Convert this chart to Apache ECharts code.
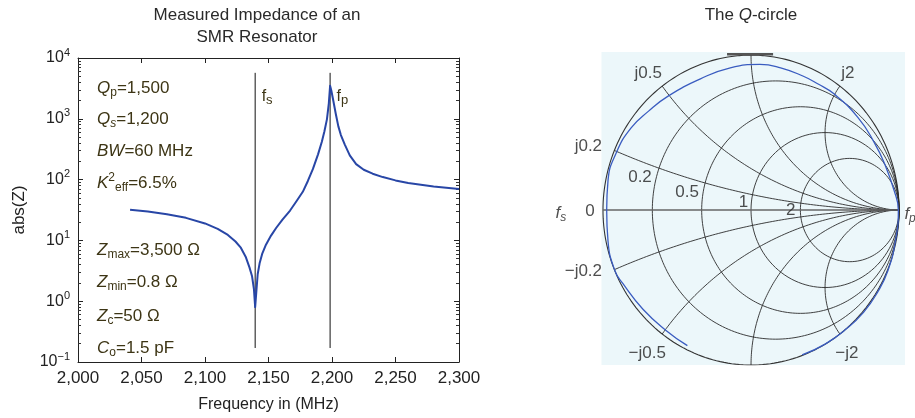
<!DOCTYPE html>
<html>
<head>
<meta charset="utf-8">
<script src="https://cdn.jsdelivr.net/npm/echarts@6/dist/echarts.min.js"></script>
<style>
html, body {margin: 0; padding: 0; background: #fff;}
#chart {width: 915px; height: 418px;}
</style>
</head>
<body>
<div id="chart"></div>
<script>
'use strict';

// left panel: |Z|
var freqMHz = [2041, 2055, 2070, 2085, 2100, 2110, 2118, 2124, 2128, 2132, 2135, 2137, 2138.5, 2139.5,
    2140.5, 2141.5, 2143, 2145, 2148, 2152, 2156, 2161, 2167, 2172, 2177, 2181, 2185, 2189, 2192, 2194,
    2196, 2197.5, 2198.5, 2199.5, 2201, 2203, 2205, 2207, 2210, 2214, 2219, 2225, 2232, 2240, 2250,
    2260, 2280, 2300];
var absZ = [32, 30, 27, 23.5, 19, 15.5, 12.3, 9.6, 7.7, 5.4, 3.6, 2.6, 1.6, 0.8,
    1.5, 2.8, 4.2, 6, 8.5, 12, 16, 22, 31, 44, 63, 95, 150, 260, 420, 620,
    980, 1800, 3500, 2900, 2000, 1200, 750, 540, 380, 250, 180, 145, 125, 110, 97,
    88, 77, 70];
var resonanceMHz = [2139.5, 2198.5];
var resonanceNames = ['s', 'p'];
var markerSpan = [0.17, 5700];
var decadeExponents = [-1, 0, 1, 2, 3, 4];
var annotations = [
    '{i|Q}{sub|p}=1,500',
    '{i|Q}{subi|s}=1,200',
    '{i|BW}=60 MHz',
    '{i|K}{sup|2}{sub|eff}=6.5%',
    '{i|Z}{sub|max}=3,500 Ω',
    '{i|Z}{sub|min}=0.8 Ω',
    '{i|Z}{sub|c}=50 Ω',
    '{i|C}{sub|o}=1.5 pF'
];

// right panel: smith grid values and the measured Q-circle (reflection coefficient)
var resistanceCircles = [0, 0.2, 0.5, 1, 2];
var reactanceArcs = [0.2, 0.5, 1, 2];
var resistanceLabels = [0.2, 0.5, 1, 2];
var reactanceLabels = [0.2, 0.5, 2, -0.2, -0.5, -2];
var qCircle = [
    [-0.43, -0.875], [-0.57, -0.78], [-0.73, -0.64], [-0.865, -0.475], [-0.92, -0.39], [-0.966, -0.2],
    [-0.975, 0], [-0.966, 0.19], [-0.91, 0.37], [-0.81, 0.53], [-0.69, 0.64], [-0.56, 0.735],
    [-0.345, 0.845], [-0.14, 0.918], [0.06, 0.94], [0.2, 0.918], [0.35, 0.865], [0.45, 0.815],
    [0.56, 0.75], [0.72, 0.6], [0.83, 0.44], [0.91, 0.28], [0.965, 0.13], [0.995, 0],
    [0.975, -0.2], [0.925, -0.39], [0.855, -0.53], [0.76, -0.66], [0.64, -0.77], [0.5, -0.865],
    [0.345, -0.935]
];
var topEdgeMark = [[-0.162, 1.006], [0.149, 1.006]];

var FONT = '"Liberation Sans", Arial, Helvetica, sans-serif';
var TEXT = '#222';
var OLIVE = '#3d3515';

function gammaOf(r, x) {
    var den = (r + 1) * (r + 1) + x * x;
    return [(r * r + x * x - 1) / den, 2 * x / den];
}

function thousands(v) {
    return String(v).replace(/\B(?=(\d{3})+(?!\d))/g, ',');
}

var minorValues = [];
decadeExponents.slice(0, -1).forEach(function (e) {
    for (var m = 2; m <= 9; m++) {
        minorValues.push(m * Math.pow(10, e));
    }
});

function logLabel(v) {
    var e = Math.round(Math.log(v) / Math.LN10);
    return '{b|10}{sup|' + (e < 0 ? '−' + (-e) : e) + '}';
}

var logRich = {
    b: {fontSize: 16, fontFamily: FONT, color: TEXT, lineHeight: 22},
    sup: {fontSize: 11, fontFamily: FONT, color: TEXT, lineHeight: 11, verticalAlign: 'top'}
};

var annRich = {
    i: {fontSize: 17, fontFamily: FONT, fontStyle: 'italic', lineHeight: 22},
    sub: {fontSize: 12, fontFamily: FONT, lineHeight: 12, verticalAlign: 'bottom'},
    subi: {fontSize: 12, fontFamily: FONT, fontStyle: 'italic', lineHeight: 12, verticalAlign: 'bottom'},
    sup: {fontSize: 12, fontFamily: FONT, lineHeight: 12, verticalAlign: 'top'}
};

var chart = echarts.init(document.getElementById('chart'));

var series = [];

series.push({
    type: 'line', xAxisIndex: 0, yAxisIndex: 0,
    data: freqMHz.map(function (f, i) { return [f, absZ[i]]; }),
    symbol: 'none', silent: true,
    lineStyle: {color: '#2846a6', width: 2, join: 'round'}, z: 3
});

resonanceMHz.forEach(function (f, i) {
    series.push({
        type: 'line', xAxisIndex: 0, yAxisIndex: 0, symbol: 'circle', symbolSize: 1, showSymbol: true,
        silent: true, itemStyle: {color: 'transparent'},
        lineStyle: {color: '#111', width: 1}, z: 2,
        data: [
            [f, markerSpan[0]],
            {
                value: [f, markerSpan[1]],
                label: {
                    show: true, position: 'right', distance: 0, offset: [6, 24],
                    formatter: '{b|f}{sub|' + resonanceNames[i] + '}',
                    rich: {
                        b: {fontSize: 16, fontFamily: FONT, color: OLIVE, lineHeight: 20},
                        sub: {fontSize: 13, fontFamily: FONT, color: OLIVE, lineHeight: 13, verticalAlign: 'bottom'}
                    }
                }
            }
        ]
    });
});

var smithLine = {color: '#2b2b2b', width: 0.9};

function addSmithCurve(points, style, z, smooth) {
    series.push({
        type: 'line', xAxisIndex: 2, yAxisIndex: 4, data: points, symbol: 'none',
        silent: true, lineStyle: style, z: z || 2, smooth: smooth || false
    });
}

resistanceCircles.forEach(function (r) {
    var c = r / (r + 1), rho = 1 / (r + 1), pts = [];
    for (var k = 0; k <= 240; k++) {
        var a = 2 * Math.PI * k / 240;
        pts.push([c + rho * Math.cos(a), rho * Math.sin(a)]);
    }
    addSmithCurve(pts, r === 0 ? {color: '#333', width: 1.1} : smithLine);
});

reactanceArcs.forEach(function (x) {
    [x, -x].forEach(function (xx) {
        var pts = [];
        for (var k = 0; k <= 300; k++) {
            var t = k / 300;
            pts.push(t < 1 ? gammaOf(t / (1 - t), xx) : [1, 0]);
        }
        addSmithCurve(pts, smithLine);
    });
});

// real axis (reactance 0)
addSmithCurve([gammaOf(0, 0), [1, 0]], {color: '#666', width: 1.6});
addSmithCurve(topEdgeMark, {color: '#555', width: 2.5});
addSmithCurve(qCircle, {color: '#3a5cc0', width: 1.3}, 4, 0.5);

var labelBase = {show: true, position: 'inside', fontSize: 17, fontFamily: FONT, color: TEXT};
var reactOffsets = {'0.2': [-26, -4], '0.5': [-14, -13], '2': [8, -13], '-0.2': [-31, 2], '-0.5': [-15, 19], '-2': [7, 19]};
var resOffsets = {'0.2': [-19, 9], '0.5': [-18, 9], '1': [-9, 8], '2': [-10, 7]};

var smithLabels = [];
reactanceLabels.forEach(function (x) {
    smithLabels.push({
        value: gammaOf(0, x),
        label: Object.assign({}, labelBase, {
            offset: reactOffsets[String(x)],
            formatter: (x < 0 ? '−j' + (-x) : 'j' + x)
        })
    });
});
resistanceLabels.forEach(function (r) {
    smithLabels.push({
        value: gammaOf(r, 0.2),
        label: Object.assign({}, labelBase, {offset: resOffsets[String(r)], formatter: String(r)})
    });
});
var fRich = {
    i: {fontSize: 17, fontFamily: FONT, fontStyle: 'italic', color: TEXT, lineHeight: 22},
    sub: {fontSize: 12, fontFamily: FONT, fontStyle: 'italic', color: TEXT, lineHeight: 12, verticalAlign: 'bottom'}
};
smithLabels.push({value: gammaOf(0, 0), label: Object.assign({}, labelBase, {offset: [-13, 1], formatter: '0'})});
smithLabels.push({value: gammaOf(0, 0), label: Object.assign({}, labelBase, {offset: [-42, 3], formatter: '{i|f}{sub|s}', rich: fRich})});
smithLabels.push({value: [1, 0], label: Object.assign({}, labelBase, {offset: [11, 4], formatter: '{i|f}{sub|p}', rich: fRich})});

series.push({
    type: 'scatter', xAxisIndex: 2, yAxisIndex: 4, symbolSize: 0, silent: true, z: 5,
    data: smithLabels
});

var graphics = [
    {type: 'text', x: 257, y: 15, style: {text: 'Measured Impedance of an', fontSize: 17, fontFamily: FONT, fill: '#2a2a2a', align: 'center', verticalAlign: 'middle'}},
    {type: 'text', x: 257, y: 37, style: {text: 'SMR Resonator', fontSize: 17, fontFamily: FONT, fill: '#2a2a2a', align: 'center', verticalAlign: 'middle'}},
    {type: 'text', x: 751, y: 15, style: {
        text: 'The {i|Q}-circle', fontSize: 17, fontFamily: FONT, fill: '#2a2a2a', align: 'center', verticalAlign: 'middle',
        rich: {i: {fontSize: 17, fontFamily: FONT, fontStyle: 'italic', fill: '#2a2a2a'}}
    }}
];
var annY = [88, 119, 151, 183, 250, 282, 316, 348];
annotations.forEach(function (t, i) {
    graphics.push({
        type: 'text', x: 97, y: annY[i], z: 10,
        style: {text: t, rich: annRich, fontSize: 17, fontFamily: FONT, fill: OLIVE, verticalAlign: 'middle', lineHeight: 22}
    });
});

var logBase = {
    type: 'log', logBase: 10, gridIndex: 0, min: 0.1, max: 10000,
    splitLine: {show: false}
};

chart.setOption({
    animation: false,
    backgroundColor: '#fff',
    grid: [
        {left: 78, top: 58, width: 381, height: 307, containLabel: false},
        {left: 601.5, top: 52, width: 303.5, height: 313, show: true, backgroundColor: '#ecf7fa', borderWidth: 0}
    ],
    xAxis: [
        {
            type: 'value', gridIndex: 0, min: 2000, max: 2300, interval: 50, position: 'bottom',
            name: 'Frequency in (MHz)', nameLocation: 'middle', nameGap: 35,
            nameTextStyle: {fontSize: 16, fontFamily: FONT, color: TEXT},
            axisLine: {show: true, lineStyle: {color: '#222', width: 1}},
            axisTick: {show: true, inside: true, length: 5, lineStyle: {color: '#222'}},
            axisLabel: {fontSize: 17, fontFamily: FONT, color: TEXT, margin: 8, formatter: thousands, showMinLabel: true, showMaxLabel: true},
            splitLine: {show: false}
        },
        {
            type: 'value', gridIndex: 0, min: 2000, max: 2300, interval: 50, position: 'top',
            axisLine: {show: true, lineStyle: {color: '#222', width: 1}},
            axisTick: {show: true, inside: true, length: 5, lineStyle: {color: '#222'}},
            axisLabel: {show: false}, splitLine: {show: false}
        },
        {type: 'value', gridIndex: 1, min: -1.01, max: 1.04, show: false}
    ],
    yAxis: [
        Object.assign({}, logBase, {
            position: 'left',
            name: 'abs(Z)', nameLocation: 'middle', nameGap: 50, nameRotate: 90,
            nameTextStyle: {fontSize: 17, fontFamily: FONT, color: TEXT},
            axisLine: {show: true, lineStyle: {color: '#222', width: 1}},
            axisTick: {show: true, inside: true, length: 5, lineStyle: {color: '#222'}},
            axisLabel: {formatter: logLabel, rich: logRich, margin: 8, showMinLabel: true, showMaxLabel: true}
        }),
        Object.assign({}, logBase, {
            position: 'right',
            axisLine: {show: true, lineStyle: {color: '#222', width: 1}},
            axisTick: {show: true, inside: true, length: 5, lineStyle: {color: '#222'}},
            axisLabel: {show: false}
        }),
        Object.assign({}, logBase, {
            position: 'left',
            axisLine: {show: false},
            axisTick: {show: true, inside: true, length: 3, customValues: minorValues, lineStyle: {color: '#333'}},
            axisLabel: {show: false}
        }),
        Object.assign({}, logBase, {
            position: 'right',
            axisLine: {show: false},
            axisTick: {show: true, inside: true, length: 3, customValues: minorValues, lineStyle: {color: '#333'}},
            axisLabel: {show: false}
        }),
        {type: 'value', gridIndex: 1, min: -1, max: 1.02, show: false}
    ],
    graphic: graphics,
    series: series
});
</script>
</body>
</html>
